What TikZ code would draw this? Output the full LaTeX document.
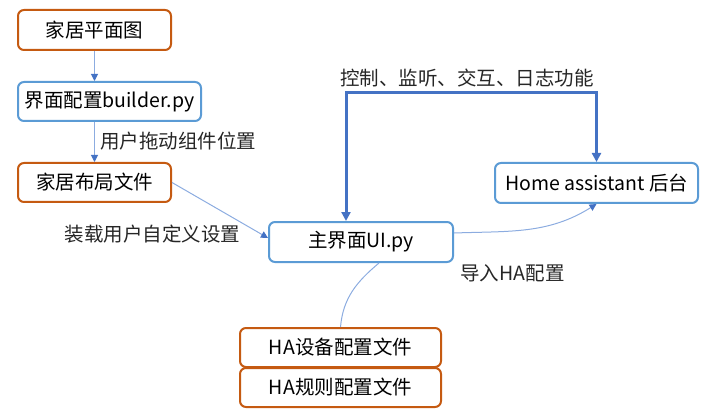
\documentclass[tikz,border=0pt]{standalone}
\usepackage{fontspec}
\setmainfont{Noto Sans CJK SC}
\usepackage{xcolor}
\usepackage{tikz}
\usetikzlibrary{calc}
\usetikzlibrary{arrows.meta}
\definecolor{boxorange}{HTML}{C55A11}
\definecolor{boxblue}{HTML}{5B9BD5}
\definecolor{linkblue}{HTML}{8CACE0}
\definecolor{tipblue}{HTML}{4472C4}
\tikzset{
  filebox/.style={draw=boxorange, line width=2pt, rounded corners=6pt, fill=white, inner sep=0},
  codebox/.style={draw=boxblue, line width=2pt, rounded corners=6pt, fill=white, inner sep=0},
  link/.style={linkblue, line width=1pt, -{Triangle[length=7pt,width=7pt,color=tipblue]}},
  ctrl/.style={tipblue, line width=3pt, {Triangle[length=9pt,width=9pt]}-{Triangle[length=9pt,width=9pt]}},
  lbl/.style={text=black!85, inner sep=1}
}

\begin{document}
\begin{tikzpicture}[x=1pt, y=1pt, font=\fontsize{19.5}{21}\selectfont]
\useasboundingbox (0,0) rectangle (711,418);
% boxes
\node[filebox, minimum width=153pt, minimum height=40pt] (plan) at (94.5,388) {家居平面图};
\node[codebox, minimum width=183pt, minimum height=39pt] (builder) at (109.5,316.5) {界面配置builder.py};
\node[filebox, minimum width=153pt, minimum height=39pt] (layout) at (94.5,235.5) {家居布局文件};
\node[codebox, minimum width=184pt, minimum height=40pt] (mainui) at (361,176) {主界面UI.py};
\node[codebox, minimum width=203pt, minimum height=40pt] (ha) at (596.5,235) {Home assistant 后台};
\node[filebox, minimum width=201pt, minimum height=39pt] (dev) at (340.5,70.5) {HA设备配置文件};
\node[filebox, minimum width=201pt, minimum height=39pt] (rule) at (340.5,30.5) {HA规则配置文件};
% connectors
\draw[link] (plan.south) -- (plan.south |- builder.north);
\draw[link] (layout.north |- builder.south) -- (layout.north);
\node[lbl, anchor=west] (drag) at (99,277) {用户拖动组件位置};
\draw[link] (layout.east) -- ([yshift=4pt]mainui.west);
\node[lbl] (load) at (152.5,184) {装载用户自定义设置};
\coordinate (ctrltop) at (467,325);
\draw[ctrl] ([xshift=-15pt]mainui.north) |- (ctrltop) -| (ha.north);
\node[lbl] (ctrlabel) at (467,340) {控制、监听、交互、日志功能};
\draw[link] ([yshift=9pt]mainui.east) to[out=2, in=-148] (ha.south);
\node[lbl] (import) at (512.5,145) {导入HA配置};
\draw[linkblue, line width=1pt] (dev.north) to[out=85, in=-140] ([xshift=18pt]mainui.south);
\end{tikzpicture}
\end{document}
